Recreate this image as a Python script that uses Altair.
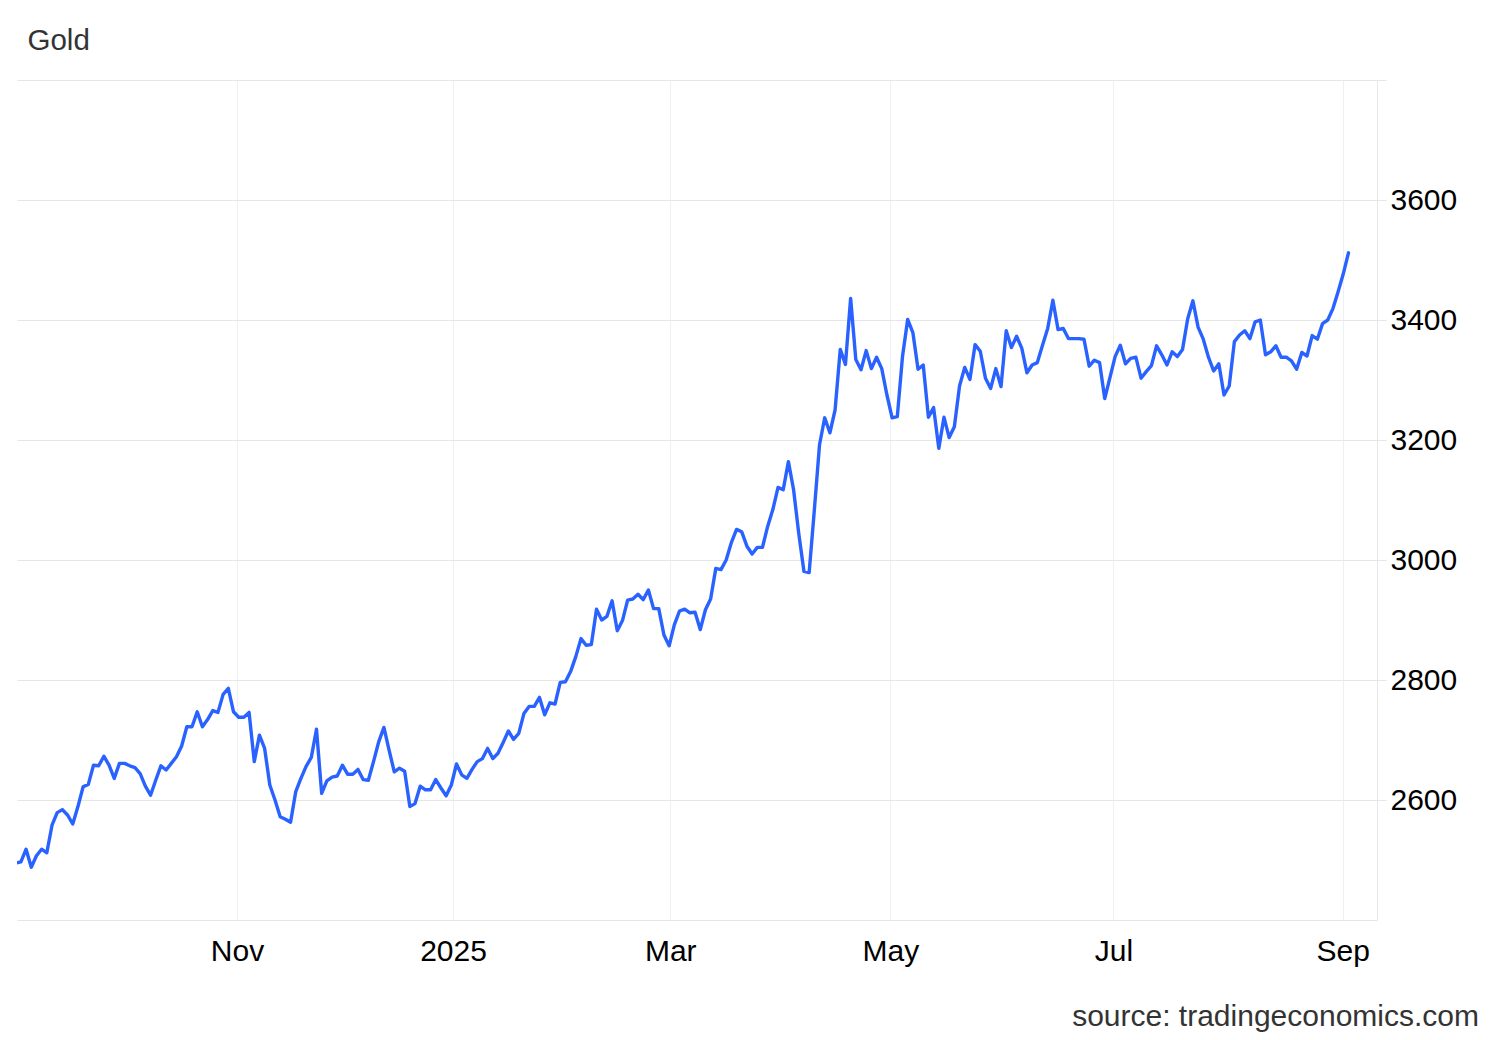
import altair as alt
import numpy as np
import pandas as pd

TITLE = "Gold"
SOURCE = "source: tradingeconomics.com"

# trading sessions shown (weekdays, minus days without a quote)
FIRST_SESSION = "2024-09-03"
LAST_SESSION = "2025-09-02"
NO_QUOTE_DAYS = ["2024-12-25", "2025-01-01", "2025-04-18"]
QUOTE_HOUR = 8  # quotes are time-stamped during the day, not at midnight

# gold price (USD/t.oz), one value per session
SEP_OCT_2024 = [2495, 2497, 2518, 2488, 2507, 2518, 2512, 2558, 2579, 2584,
                2575, 2560, 2589, 2622, 2626, 2658, 2657, 2673, 2658, 2636,
                2661, 2661, 2657, 2654, 2644, 2623, 2608, 2633, 2657, 2650,
                2661, 2672, 2690, 2722, 2722, 2747, 2722, 2734, 2749, 2746,
                2776, 2786, 2747]
NOV_DEC_2024 = [2738, 2738, 2746, 2664, 2708, 2686, 2625, 2600, 2572, 2568,
                2563, 2614, 2636, 2656, 2671, 2718, 2611, 2632, 2638, 2640,
                2658, 2643, 2643, 2651, 2634, 2633, 2664, 2697, 2721, 2683,
                2647, 2653, 2648, 2589, 2594, 2623, 2617, 2617, 2634, 2620,
                2607, 2625]
JAN_FEB_2025 = [2660, 2642, 2636, 2651, 2664, 2669, 2686, 2669, 2678, 2696,
                2715, 2701, 2711, 2744, 2756, 2756, 2771, 2742, 2762, 2760,
                2796, 2797, 2814, 2839, 2869, 2858, 2859, 2918, 2900, 2906,
                2932, 2882, 2899, 2933, 2935, 2943, 2934, 2950, 2919, 2919,
                2875, 2857]
MAR_APR_2025 = [2892, 2915, 2918, 2912, 2913, 2884, 2917, 2935, 2986, 2984,
                3000, 3029, 3051, 3047, 3023, 3010, 3021, 3021, 3056, 3084,
                3121, 3117, 3164, 3117, 3044, 2981, 2979, 3083, 3192, 3237,
                3212, 3250, 3351, 3326, 3436, 3334, 3317, 3349, 3319, 3338,
                3319, 3275]
MAY_JUN_2025 = [3237, 3239, 3339, 3401, 3379, 3318, 3325, 3238, 3254, 3186,
                3238, 3204, 3222, 3290, 3321, 3301, 3359, 3348, 3303, 3286,
                3319, 3289, 3382, 3354, 3373, 3353, 3312, 3325, 3329, 3358,
                3386, 3433, 3384, 3386, 3369, 3369, 3369, 3368, 3323, 3333,
                3329, 3269, 3304]
JUL_SEP_2025 = [3339, 3358, 3327, 3336, 3338, 3303, 3314, 3324, 3357, 3342,
                3325, 3347, 3339, 3351, 3402, 3432, 3388, 3368, 3338, 3315,
                3327, 3275, 3290, 3364, 3375, 3382, 3369, 3397, 3400, 3342,
                3347, 3357, 3338, 3338, 3332, 3318, 3346, 3340, 3374, 3368,
                3394, 3400, 3419, 3447, 3477, 3512]

MONTH_TICKS = ["2024-11-01", "2025-01-01", "2025-03-01", "2025-05-01", "2025-07-01", "2025-09-01"]
MONTH_LABELS = ["Nov", "2025", "Mar", "May", "Jul", "Sep"]
Y_TICKS = [2600, 2800, 3000, 3200, 3400, 3600, 3800]
Y_DOMAIN = [2400, 3800]
X_DOMAIN = [0.25, 262.5]  # session-index range visible in the frame

# ---- build the table -------------------------------------------------------
sessions = pd.bdate_range(FIRST_SESSION, LAST_SESSION)
sessions = sessions[~sessions.isin(pd.to_datetime(NO_QUOTE_DAYS))]
prices = SEP_OCT_2024 + NOV_DEC_2024 + JAN_FEB_2025 + MAR_APR_2025 + MAY_JUN_2025 + JUL_SEP_2025
assert len(sessions) == len(prices), (len(sessions), len(prices))

df = pd.DataFrame({
    "date": sessions.strftime("%Y-%m-%d"),
    "price": prices,
    "session": np.arange(len(prices)),
})

# ordinal (session-based) axis: month starts placed between neighbouring sessions
sess_hours = (sessions + pd.Timedelta(hours=QUOTE_HOUR)).values.astype("datetime64[h]").astype("int64")
tick_hours = pd.to_datetime(MONTH_TICKS).values.astype("datetime64[h]").astype("int64")
tick_pos = [round(float(v), 4) for v in np.interp(tick_hours, sess_hours, df["session"].to_numpy())]

label_expr = "''"
for pos, lab in reversed(list(zip(tick_pos, MONTH_LABELS))):
    label_expr = f"abs(datum.value - {pos}) < 0.01 ? '{lab}' : ({label_expr})"

FONT = "Liberation Sans"
GRID_H = "#e6e6e6"
GRID_V = "#edf1f6"

line = alt.Chart(df).mark_line(
    color="#2962ff", strokeWidth=3.4, clip=True, strokeJoin="round", strokeCap="round"
).encode(
    x=alt.X("session:Q",
            scale=alt.Scale(domain=X_DOMAIN, nice=False, zero=False),
            axis=alt.Axis(values=tick_pos, labelExpr=label_expr, title=None,
                          grid=True, gridColor=GRID_V, gridWidth=1,
                          ticks=False, tickSize=0, domain=True, domainColor=GRID_H,
                          domainWidth=1, labelPadding=16, labelFontSize=30,
                          labelFont=FONT, labelColor="#000000", labelFlush=False,
                          labelOverlap=False)),
    y=alt.Y("price:Q",
            scale=alt.Scale(domain=Y_DOMAIN, nice=False, zero=False),
            axis=alt.Axis(orient="right", values=Y_TICKS, title=None, format="d",
                          labelExpr="datum.value >= 3800 ? '' : datum.label",
                          grid=True, gridColor=GRID_H, gridWidth=1,
                          ticks=True, tickSize=9, tickColor=GRID_H, tickWidth=1,
                          domain=True, domainColor=GRID_H, domainWidth=1,
                          labelPadding=4, labelFontSize=30, labelFont=FONT,
                          labelColor="#000000", labelAlign="left",
                          labelBaseline="middle", labelFlush=False,
                          labelOverlap=False)),
)

title = alt.Chart(pd.DataFrame({"t": [TITLE]})).mark_text(
    align="left", baseline="alphabetic", font=FONT, fontSize=29.5, color="#333333"
).encode(text="t:N", x=alt.value(10.5), y=alt.value(-30))

source = alt.Chart(pd.DataFrame({"t": [SOURCE]})).mark_text(
    align="right", baseline="alphabetic", font=FONT, fontSize=30, color="#333333"
).encode(text="t:N", x=alt.value(1462), y=alt.value(946))

chart = alt.layer(line, title, source).properties(
    width=1360,
    height=840,
    autosize=alt.AutoSizeParams(type="none"),
    padding={"left": 9, "top": 72, "right": 115, "bottom": 112},
    background="#ffffff",
).configure_view(stroke="transparent")

chart.save("out.html", embed_options={"renderer": "svg", "actions": False})
